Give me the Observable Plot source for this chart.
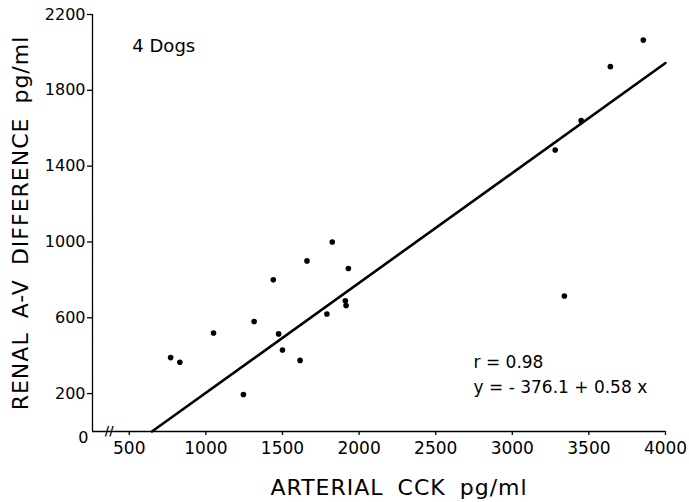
<!DOCTYPE html>
<html>
<head>
<meta charset="utf-8">
<script src="https://cdn.jsdelivr.net/npm/d3@7"></script>
<script src="https://cdn.jsdelivr.net/npm/@observablehq/plot@0.6"></script>
<style>
  html, body { margin: 0; padding: 0; background: #fff; }
</style>
</head>
<body>
<div id="chart"></div>
<script>
// Arterial CCK (pg/ml) and renal A-V difference (pg/ml), 4 dogs
const cck    = [770, 830, 1050, 1245, 1315, 1440, 1475, 1500, 1615, 1660, 1790, 1825, 1910, 1915, 1930, 3280, 3340, 3450, 3640, 3855];
const avDiff = [390, 365, 520, 195, 580, 800, 515, 430, 375, 900, 620, 1000, 690, 665, 860, 1485, 715, 1640, 1925, 2065];

// Regression line y = -376.1 + 0.58x, endpoints
const fitX = [648, 4000];
const fitY = [0, 1944];

const xTicks = [500, 1000, 1500, 2000, 2500, 3000, 3500, 4000];
const yTicks = [200, 600, 1000, 1400, 1800, 2200];

const xLabel = "ARTERIAL CCK pg/ml";
const yLabel = "RENAL A-V DIFFERENCE pg/ml";
const groupNote = "4 Dogs";
const statNotes = ["r = 0.98", "y = - 376.1 + 0.58 x"];

const points = cck.map((x, i) => ({x, y: avDiff[i]}));
const fit = fitX.map((x, i) => ({x, y: fitY[i]}));

const xMin = 260, xMax = 4000, yMin = 0, yMax = 2200;
const breakAt = 369;

const chart = Plot.plot({
  width: 689,
  height: 502,
  marginLeft: 92,
  marginRight: 24,
  marginTop: 14,
  marginBottom: 71,
  style: {fontFamily: "DejaVu Sans, sans-serif", fontSize: "16px", background: "#fff", color: "#000"},
  x: {domain: [xMin, xMax]},
  y: {domain: [yMin, yMax]},
  marks: [
    Plot.axisX({ticks: xTicks, tickSize: 4, tickPadding: 6, fontSize: 17, label: null, tickFormat: d => String(d), strokeWidth: 1.3}),
    Plot.axisY({ticks: yTicks, tickSize: 5, tickPadding: 2, fontSize: 16, label: null, tickFormat: d => String(d), strokeWidth: 1.3}),
    Plot.ruleY([yMin], {stroke: "#000", strokeWidth: 1.3}),
    Plot.ruleX([xMin], {stroke: "#000", strokeWidth: 1.3}),
    Plot.text(["0"], {x: xMin, y: yMin, text: d => d, textAnchor: "end", dx: -4, dy: 6, fontSize: 16}),
    Plot.text(["//"], {x: breakAt, y: yMin, text: d => d, fontSize: 12, fontWeight: "bold"}),
    Plot.line(fit, {x: "x", y: "y", stroke: "#000", strokeWidth: 2.6}),
    Plot.dot(points, {x: "x", y: "y", r: 2.8, fill: "#000"}),
    Plot.text([groupNote], {x: 520, y: 2030, text: d => d, textAnchor: "start", fontSize: 18}),
    Plot.text(statNotes, {x: 2747, y: (d, i) => [363, 231][i], text: d => d, textAnchor: "start", fontSize: 17}),
    Plot.text([yLabel], {frameAnchor: "left", text: d => d, rotate: -90, textAnchor: "middle", lineAnchor: "middle", dx: -72, fontSize: 22}),
    Plot.text([xLabel], {frameAnchor: "bottom", text: d => d, textAnchor: "middle", lineAnchor: "middle", dx: 20, dy: 56, fontSize: 22})
  ]
});

d3.select(chart).selectAll("text")
  .filter(function() { return this.textContent === xLabel || this.textContent === yLabel; })
  .attr("letter-spacing", "1px")
  .attr("word-spacing", "6px");

document.getElementById("chart").appendChild(chart);
</script>
</body>
</html>
